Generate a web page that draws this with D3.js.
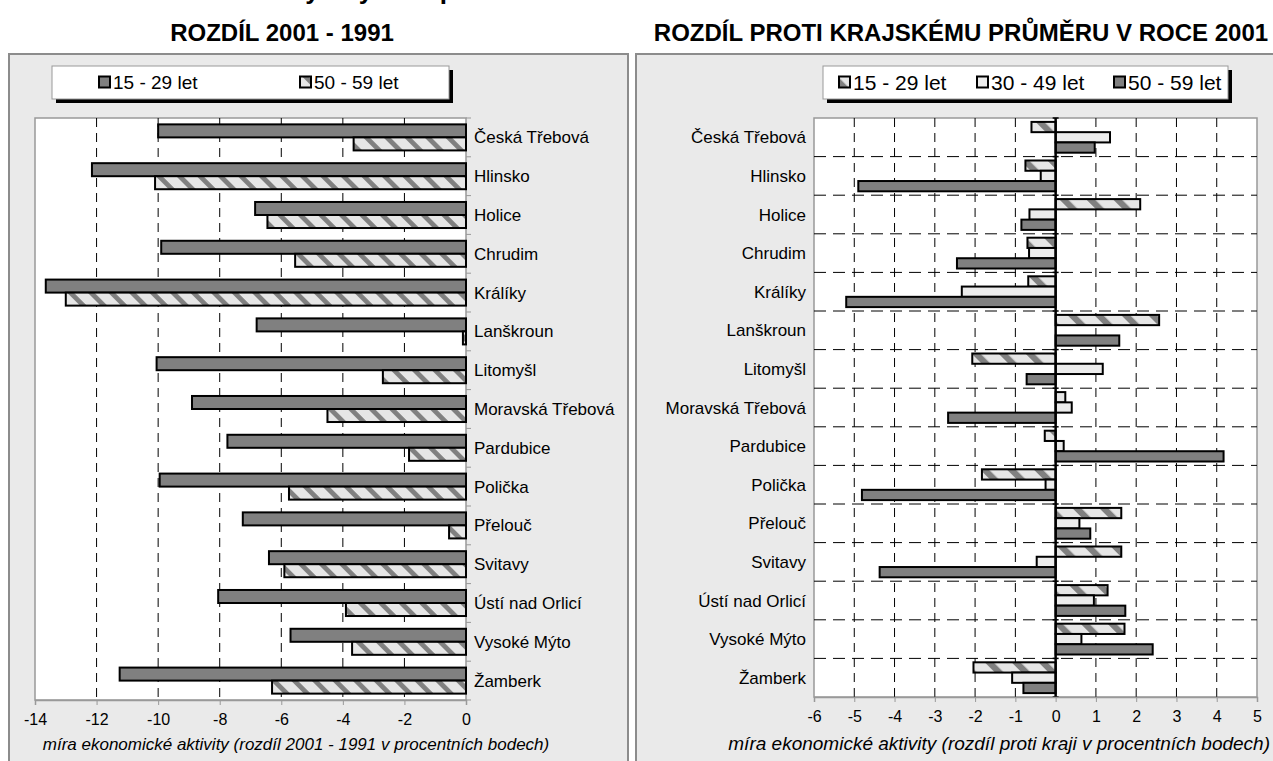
<!DOCTYPE html>
<html><head><meta charset="utf-8">
<script src="https://cdn.jsdelivr.net/npm/d3@7"></script>
<style>body{margin:0;background:#fff} svg{display:block} text{font-family:"Liberation Sans",Arial,sans-serif;fill:#000}</style>
</head><body><svg id="c" width="1273" height="761"></svg>
<script>
const categories = ["Česká Třebová","Hlinsko","Holice","Chrudim","Králíky","Lanškroun","Litomyšl","Moravská Třebová","Pardubice","Polička","Přelouč","Svitavy","Ústí nad Orlicí","Vysoké Mýto","Žamberk"];
const diff1529 = [-10.0,-12.15,-6.85,-9.9,-13.65,-6.8,-10.05,-8.9,-7.75,-9.95,-7.25,-6.4,-8.05,-5.7,-11.25];
const diff5059 = [-3.65,-10.1,-6.45,-5.55,-13.0,-0.1,-2.7,-4.5,-1.85,-5.75,-0.55,-5.9,-3.9,-3.7,-6.3];
const kraj1529 = [-0.6,-0.75,2.1,-0.7,-0.68,2.57,-2.07,0.24,-0.27,-1.83,1.63,1.63,1.29,1.71,-2.04];
const kraj3049 = [1.35,-0.37,-0.65,-0.66,-2.33,0.0,1.17,0.4,0.2,-0.25,0.59,-0.47,0.95,0.64,-1.08];
const kraj5059 = [0.97,-4.9,-0.85,-2.45,-5.2,1.58,-0.72,-2.67,4.17,-4.81,0.86,-4.37,1.73,2.41,-0.8];
const leftTicks = [-14,-12,-10,-8,-6,-4,-2,0];
const rightTicks = [-6,-5,-4,-3,-2,-1,0,1,2,3,4,5];
const leftSeries = ["15 - 29 let","50 - 59 let"];
const rightSeries = ["15 - 29 let","30 - 49 let","50 - 59 let"];

const svg = d3.select("#c");
const defs = svg.append("defs");
function hatch(id, w, frac){
  const p = defs.append("pattern").attr("id",id).attr("patternUnits","userSpaceOnUse")
    .attr("width",w).attr("height",w).attr("patternTransform","rotate(-45)");
  p.append("rect").attr("width",w).attr("height",w).attr("fill","#e6e6e6");
  p.append("rect").attr("width",w*frac).attr("height",w).attr("fill","#808080");
}
hatch("hatchL",14.5,0.33);
hatch("hatchR",19,0.33);

const FILL_DARK="#808080", FILL_LIGHT="#ececec";

// partial main title (cut at the top edge)
svg.append("text").attr("x",12).attr("y",-1).attr("font-size",26).attr("font-weight","bold")
  .text("Míra ekonomické aktivity obyvatel podle věku");

// subtitles
svg.append("text").attr("x",282).attr("y",41).attr("text-anchor","middle").attr("font-size",24).attr("font-weight","bold").text("ROZDÍL 2001 - 1991");
svg.append("text").attr("x",961).attr("y",41).attr("text-anchor","middle").attr("font-size",24).attr("font-weight","bold").text("ROZDÍL PROTI KRAJSKÉMU PRŮMĚRU V ROCE 2001");

// panels
svg.append("rect").attr("x",9).attr("y",54).attr("width",619).attr("height",730).attr("fill","#eaeaea").attr("stroke","#8c8c8c").attr("stroke-width",2);
svg.append("rect").attr("x",636).attr("y",54).attr("width",660).attr("height",730).attr("fill","#eaeaea").attr("stroke","#8c8c8c").attr("stroke-width",2);

function legend(x,y,w,h,items,itemX,fs){
  const g = svg.append("g");
  g.append("rect").attr("x",x+4).attr("y",y+4).attr("width",w).attr("height",h).attr("fill","#000");
  g.append("rect").attr("x",x).attr("y",y).attr("width",w).attr("height",h).attr("fill","#fff").attr("stroke","#999").attr("stroke-width",1);
  items.forEach((it,i)=>{
    g.append("rect").attr("x",itemX[i]).attr("y",y+h/2-6).attr("width",11).attr("height",11)
      .attr("fill",it.fill).attr("stroke","#000").attr("stroke-width",2);
    g.append("text").attr("x",itemX[i]+14).attr("y",y+h/2+fs*0.36).attr("font-size",fs).text(it.name);
  });
}

// ---------- LEFT CHART ----------
{
  const L={x0:35,x1:466,y0:118,y1:700};
  const x=d3.scaleLinear().domain([leftTicks[0],leftTicks[leftTicks.length-1]]).range([L.x0,L.x1]);
  const y=d3.scaleBand().domain(categories).range([L.y0,L.y1]);
  const ys=d3.scaleBand().domain(leftSeries).range([0,y.bandwidth()]).paddingInner(0).paddingOuter(0.49);
  svg.append("rect").attr("x",L.x0).attr("y",L.y0).attr("width",L.x1-L.x0).attr("height",L.y1-L.y0).attr("fill","#fff").attr("stroke","#999").attr("stroke-width",1.5);
  svg.append("g").selectAll("line").data(leftTicks.slice(1,-1)).join("line")
    .attr("x1",d=>x(d)).attr("x2",d=>x(d)).attr("y1",L.y0).attr("y2",L.y1)
    .attr("stroke","#000").attr("stroke-width",1).attr("stroke-dasharray","9,6");
  svg.append("g").selectAll("line").data(d3.range(categories.length+1)).join("line")
    .attr("x1",L.x1).attr("x2",L.x1+5).attr("y1",i=>L.y0+i*y.step()).attr("y2",i=>L.y0+i*y.step())
    .attr("stroke","#999").attr("stroke-width",1);
  const data=[];
  categories.forEach((c,i)=>{data.push({c,s:leftSeries[0],v:diff1529[i],f:FILL_DARK});data.push({c,s:leftSeries[1],v:diff5059[i],f:"url(#hatchL)"});});
  svg.append("g").selectAll("rect").data(data).join("rect")
    .attr("x",d=>x(Math.min(0,d.v))).attr("width",d=>Math.abs(x(d.v)-x(0)))
    .attr("y",d=>y(d.c)+ys(d.s)).attr("height",ys.bandwidth())
    .attr("fill",d=>d.f).attr("stroke","#000").attr("stroke-width",2);
  const ax=svg.append("g").attr("transform",`translate(0,${L.y1})`).call(d3.axisBottom(x).tickValues(leftTicks).tickSize(5).tickPadding(9).tickFormat(d3.format("d")));
  ax.select(".domain").attr("stroke","#999").attr("stroke-width",1.5);
  ax.selectAll(".tick line").attr("stroke","#999");
  ax.selectAll("text").attr("font-size",16).attr("font-family",'"Liberation Sans",Arial,sans-serif').text(d=>d<0?"-"+Math.abs(d):d);
  svg.append("g").selectAll("text").data(categories).join("text")
    .attr("x",L.x1+8).attr("y",d=>y(d)+y.bandwidth()/2+6).attr("font-size",17).text(d=>d);
  svg.append("text").attr("x",296).attr("y",750).attr("text-anchor","middle").attr("font-size",17).attr("font-style","italic")
    .text("míra ekonomické aktivity (rozdíl 2001 - 1991 v procentních bodech)");
  legend(52,66,397,33,[{name:leftSeries[0],fill:FILL_DARK},{name:leftSeries[1],fill:"url(#hatchL)"}],[99,300],19);
}

// ---------- RIGHT CHART ----------
{
  const R={x0:814,x1:1257,y0:118,y1:697};
  const x=d3.scaleLinear().domain([rightTicks[0],rightTicks[rightTicks.length-1]]).range([R.x0,R.x1]);
  const y=d3.scaleBand().domain(categories).range([R.y0,R.y1]);
  const ys=d3.scaleBand().domain(rightSeries).range([0,y.bandwidth()]).paddingInner(0).paddingOuter(0.38);
  svg.append("rect").attr("x",R.x0).attr("y",R.y0).attr("width",R.x1-R.x0).attr("height",R.y1-R.y0).attr("fill","#fff").attr("stroke","#999").attr("stroke-width",1.5);
  svg.append("g").selectAll("line").data(rightTicks.slice(1,-1).filter(d=>d!==0)).join("line")
    .attr("x1",d=>x(d)).attr("x2",d=>x(d)).attr("y1",R.y0).attr("y2",R.y1)
    .attr("stroke","#000").attr("stroke-width",1).attr("stroke-dasharray","9,6");
  svg.append("g").selectAll("line").data(d3.range(1,categories.length)).join("line")
    .attr("x1",R.x0).attr("x2",R.x1).attr("y1",i=>R.y0+i*y.step()).attr("y2",i=>R.y0+i*y.step())
    .attr("stroke","#000").attr("stroke-width",1).attr("stroke-dasharray","12,7");
  const fills=["url(#hatchR)",FILL_LIGHT,FILL_DARK];
  const vals=[kraj1529,kraj3049,kraj5059];
  const data=[];
  categories.forEach((c,i)=>rightSeries.forEach((s,j)=>data.push({c,s,v:vals[j][i],f:fills[j]})));
  svg.append("g").selectAll("rect").data(data.filter(d=>d.v!==0)).join("rect")
    .attr("x",d=>x(Math.min(0,d.v))).attr("width",d=>Math.abs(x(d.v)-x(0)))
    .attr("y",d=>y(d.c)+ys(d.s)).attr("height",ys.bandwidth())
    .attr("fill",d=>d.f).attr("stroke","#000").attr("stroke-width",2);
  svg.append("line").attr("x1",x(0)).attr("x2",x(0)).attr("y1",R.y0).attr("y2",R.y1).attr("stroke","#000").attr("stroke-width",2.5);
  svg.append("g").selectAll("line").data(d3.range(categories.length+1)).join("line")
    .attr("x1",x(0)-3).attr("x2",x(0)+3).attr("y1",i=>R.y0+i*y.step()).attr("y2",i=>R.y0+i*y.step())
    .attr("stroke","#000").attr("stroke-width",1.5);
  const ax=svg.append("g").attr("transform",`translate(0,${R.y1})`).call(d3.axisBottom(x).tickValues(rightTicks).tickSize(5).tickPadding(9).tickFormat(d3.format("d")));
  ax.select(".domain").attr("stroke","#999").attr("stroke-width",1.5);
  ax.selectAll(".tick line").attr("stroke","#999");
  ax.selectAll("text").attr("font-size",16).attr("font-family",'"Liberation Sans",Arial,sans-serif').text(d=>d<0?"-"+Math.abs(d):d);
  svg.append("g").selectAll("text").data(categories).join("text")
    .attr("x",R.x0-8).attr("y",d=>y(d)+y.bandwidth()/2+6).attr("text-anchor","end").attr("font-size",17).text(d=>d);
  svg.append("text").attr("x",1270).attr("y",750).attr("text-anchor","end").attr("font-size",19).attr("font-style","italic")
    .text("míra ekonomické aktivity (rozdíl proti kraji v procentních bodech)");
  legend(823,66,405,33,rightSeries.map((s,j)=>({name:s,fill:fills[j]})),[839,977,1114],21);
}
</script></body></html>
